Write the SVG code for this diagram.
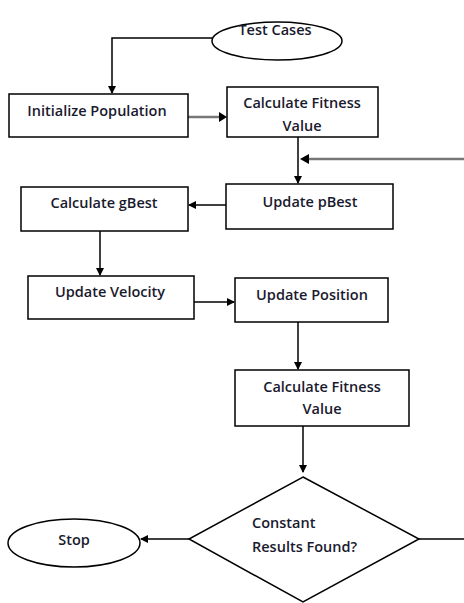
<svg xmlns="http://www.w3.org/2000/svg" width="464" height="603" viewBox="0 0 464 603">
<style>
.box{fill:#fff;stroke:#000;stroke-width:1.5}
.t{font-family:"Open Sans",sans-serif;font-weight:600;font-size:14.5px;fill:#1a1a2e;text-anchor:middle}
.c{fill:none;stroke:#000;stroke-width:1.5}
.g{fill:none;stroke:#777;stroke-width:2.5}
</style>
<defs>
<marker id="ah" markerWidth="8" markerHeight="8" refX="7" refY="4" orient="auto" markerUnits="userSpaceOnUse"><path d="M0,0 L8,4 L0,8 Z" fill="#000"/></marker>
</defs>
<rect width="464" height="603" fill="#fff"/>
<g id="connectors">
<path class="c" d="M212,38 H112 V93" marker-end="url(#ah)"/>
<path class="g" d="M188,117 H219"/>
<path d="M219,112 L227,117 L219,122 Z" fill="#000"/>
<path class="c" d="M298,137 V183" marker-end="url(#ah)"/>
<path class="g" d="M464,159 H309"/>
<path d="M309,154 L300,159 L309,164 Z" fill="#000"/>
<path class="c" d="M226,205 H189" marker-end="url(#ah)"/>
<path class="c" d="M100,231 V275" marker-end="url(#ah)"/>
<path class="c" d="M194,302 H234" marker-end="url(#ah)"/>
<path class="c" d="M298,322 V369" marker-end="url(#ah)"/>
<path class="c" d="M303,426 V472" marker-end="url(#ah)"/>
<path class="c" d="M189,539 H141" marker-end="url(#ah)"/>
<path class="c" d="M419,539 H464"/>
</g>
<g id="test-cases">
<ellipse class="box" cx="277" cy="41" rx="65" ry="19"/>
<text class="t" x="275" y="35">Test Cases</text>
</g>
<g id="initialize-population">
<rect class="box" x="9" y="94" width="179" height="43"/>
<text class="t" x="97" y="116">Initialize Population</text>
</g>
<g id="calculate-fitness-1">
<rect class="box" x="227" y="87" width="151" height="50"/>
<text class="t" x="302" y="108">Calculate Fitness</text>
<text class="t" x="302" y="131">Value</text>
</g>
<g id="update-pbest">
<rect class="box" x="226" y="184" width="167" height="45"/>
<text class="t" x="310" y="207">Update pBest</text>
</g>
<g id="calculate-gbest">
<rect class="box" x="21" y="187" width="167" height="44"/>
<text class="t" x="104" y="208">Calculate gBest</text>
</g>
<g id="update-velocity">
<rect class="box" x="28" y="276" width="166" height="43"/>
<text class="t" x="110" y="297">Update Velocity</text>
</g>
<g id="update-position">
<rect class="box" x="235" y="278" width="153" height="44"/>
<text class="t" x="312" y="300">Update Position</text>
</g>
<g id="calculate-fitness-2">
<rect class="box" x="235" y="370" width="174" height="56"/>
<text class="t" x="322" y="392">Calculate Fitness</text>
<text class="t" x="322" y="414">Value</text>
</g>
<g id="constant-results">
<polygon class="box" points="303,477 419,539 303,602 189,539"/>
<text class="t" x="252" y="528" style="text-anchor:start">Constant</text>
<text class="t" x="252" y="552" style="text-anchor:start">Results Found?</text>
</g>
<g id="stop">
<ellipse class="box" cx="74" cy="543" rx="66" ry="24"/>
<text class="t" x="74" y="545">Stop</text>
</g>
</svg>
